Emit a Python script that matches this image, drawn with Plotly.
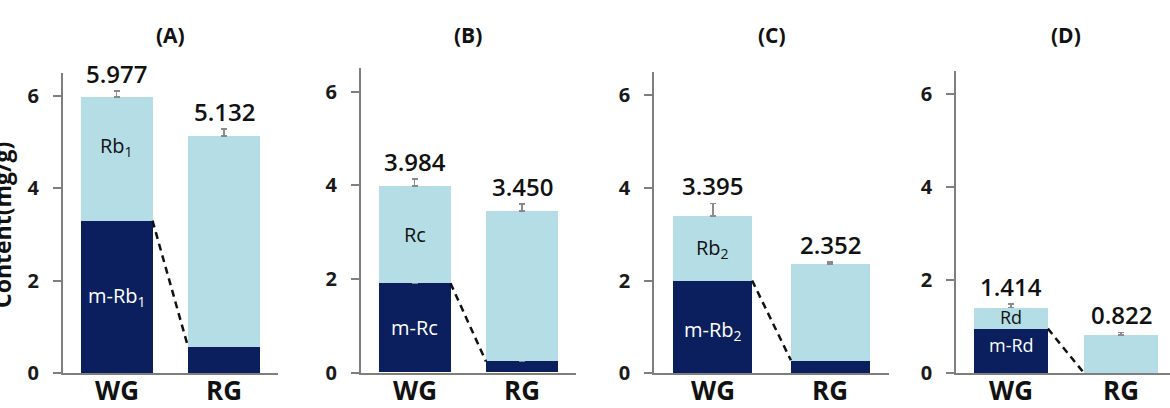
import plotly.graph_objects as go

# ---- data ----
panels = ["(A)", "(B)", "(C)", "(D)"]
groups = ["WG", "RG"]
malonyl_names = ["m-Rb<sub>1</sub>", "m-Rc", "m-Rb<sub>2</sub>", "m-Rd"]
neutral_names = ["Rb<sub>1</sub>", "Rc", "Rb<sub>2</sub>", "Rd"]
totals = [[5.977, 5.132], [3.984, 3.450], [3.395, 2.352], [1.414, 0.822]]
total_err = [[0.13, 0.15], [0.15, 0.15], [0.27, 0.05], [0.08, 0.06]]
malonyl = [[3.30, 0.57], [1.91, 0.24], [2.00, 0.28], [0.96, 0.0]]
malonyl_err = [[0.08, 0.18], [0.04, 0.23], [0.07, 0.08], [0.0, 0.0]]
yticks = [0, 2, 4, 6]

# ---- layout geometry (pixels) ----
W, H = 1170, 408
# x start, px per category, y of zero, y of top (6.5)
geo = [
    (62.75, 107.5, 373.0, 72.9),
    (360.75, 107.5, 372.7, 68.3),
    (654.0, 117.5, 373.3, 71.8),
    (956.0, 110.0, 373.3, 71.0),
]
BW = 0.67
DARK = "#0b1f5f"
LIGHT = "#b5dde6"
FONT = "Open Sans"
pos = list(range(len(groups)))

fig = go.Figure()
annotations = []

for i in range(4):
    xs, cat, y0, ytop = geo[i]
    xe = min(xs + 2 * cat, W)
    rng_hi = (xe - xs) / cat - 0.5
    xa = "x" if i == 0 else f"x{i+1}"
    ya = "y" if i == 0 else f"y{i+1}"
    lay_x = "xaxis" if i == 0 else f"xaxis{i+1}"
    lay_y = "yaxis" if i == 0 else f"yaxis{i+1}"

    light = [totals[i][k] - malonyl[i][k] for k in range(2)]

    fig.add_trace(go.Bar(
        x=pos, y=malonyl[i], xaxis=xa, yaxis=ya, width=BW,
        marker=dict(color=DARK, line=dict(width=0)),
        error_y=dict(type="data", array=malonyl_err[i], arrayminus=[0, 0],
                     symmetric=False, color="#8a8a8a", thickness=1.5, width=3),
        showlegend=False, hoverinfo="skip",
    ))
    fig.add_trace(go.Bar(
        x=pos, y=light, xaxis=xa, yaxis=ya, width=BW,
        marker=dict(color=LIGHT, line=dict(width=0)),
        error_y=dict(type="data", array=total_err[i], arrayminus=[0, 0],
                     symmetric=False, color="#8a8a8a", thickness=1.5, width=3),
        showlegend=False, hoverinfo="skip",
    ))
    # dashed connector
    fig.add_trace(go.Scatter(
        x=[pos[0] + BW / 2, pos[1] - BW / 2], y=[malonyl[i][0], malonyl[i][1]],
        xaxis=xa, yaxis=ya, mode="lines",
        line=dict(color="#111111", width=2.5, dash="7px,5px"),
        showlegend=False, hoverinfo="skip", cliponaxis=False,
    ))

    fig.update_layout({
        lay_x: dict(
            domain=[xs / W, xe / W], range=[-0.5, rng_hi],
            tickvals=pos, ticktext=groups, showticklabels=False,
            showline=True, linecolor="#7f7f7f", linewidth=1.5,
            ticks="", showgrid=False, zeroline=False, automargin=False,
            anchor=ya,
        ),
        lay_y: dict(
            domain=[(H - y0) / H, (H - ytop) / H], range=[0, 6.5],
            tickvals=yticks, showline=True, linecolor="#7f7f7f", linewidth=1.5,
            ticks="outside", ticklen=8, tickwidth=1.5, tickcolor="#7f7f7f",
            showgrid=False, zeroline=False, anchor=xa, automargin=False,
            tickfont=dict(family=FONT, size=20, color="#1a1a1a", weight="bold"),
            ticklabelstandoff=10,
        ),
    })

    # category labels under the axis
    for k in range(2):
        annotations.append(dict(
            text="<b>" + groups[k] + "</b>", xref=xa, yref="paper",
            x=pos[k], y=(H - 390) / H, showarrow=False,
            xanchor="center", yanchor="middle",
            font=dict(family=FONT, size=26, color="#111111"),
        ))

    # panel title
    annotations.append(dict(
        text="<b>" + panels[i] + "</b>", xref="paper", yref="paper",
        x=(xs + cat) / W, y=(H - 35) / H, showarrow=False,
        font=dict(family=FONT, size=21, color="#111111"),
        xanchor="center", yanchor="middle",
    ))
    for k in range(2):
        # total value labels
        annotations.append(dict(
            text=f"{totals[i][k]:.3f}", xref=xa, yref=ya, x=pos[k],
            y=totals[i][k] + total_err[i][k], showarrow=False,
            yanchor="bottom", yshift=-1,
            font=dict(family=FONT, size=24, color="#111111", weight=600),
        ))
    # inside labels on WG bar
    small = i == 3
    annotations.append(dict(
        text=neutral_names[i], xref=xa, yref=ya, x=pos[0],
        y=(malonyl[i][0] + totals[i][0]) / 2, showarrow=False,
        yshift=12 if i == 0 else (1 if small else 0),
        font=dict(family=FONT, size=18 if small else 20, color="#111111", weight=500),
    ))
    annotations.append(dict(
        text=malonyl_names[i], xref=xa, yref=ya, x=pos[0],
        y=malonyl[i][0] / 2, showarrow=False,
        yshift=6 if small else (-4 if i == 2 else 0),
        font=dict(family=FONT, size=18 if small else 20, color="#ffffff", weight=500),
    ))

# y-axis title, partly cut at left edge
annotations.append(dict(
    text="<b>Content(mg/g)</b>", xref="paper", yref="paper",
    x=0, y=(H - 225) / H, xshift=2, showarrow=False, textangle=-90,
    xanchor="center", yanchor="middle",
    font=dict(family=FONT, size=23, color="#111111"),
))

fig.update_layout(
    barmode="stack", bargap=0,
    width=W, height=H, margin=dict(l=0, r=0, t=0, b=0),
    paper_bgcolor="white", plot_bgcolor="white",
    annotations=annotations,
)

fig.write_html("out.html")
